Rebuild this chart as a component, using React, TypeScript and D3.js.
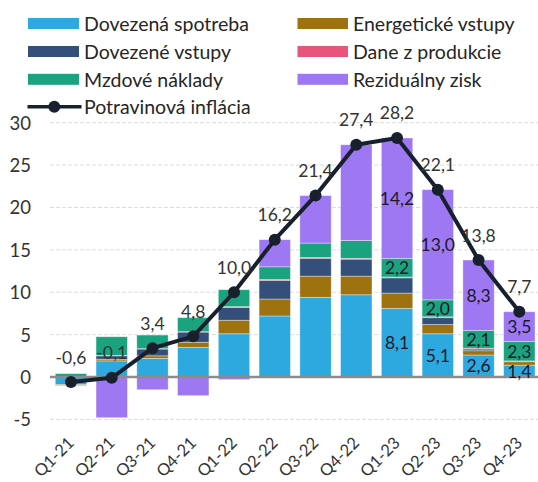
import React from "react";
import * as d3 from "d3";

const quarters = ["Q1-21", "Q2-21", "Q3-21", "Q4-21", "Q1-22", "Q2-22", "Q3-22", "Q4-22", "Q1-23", "Q2-23", "Q3-23", "Q4-23"];
const dovezenaSpotreba = [-0.9, 1.9, 2.2, 3.5, 5.1, 7.2, 9.4, 9.7, 8.1, 5.1, 2.6, 1.4];
const energetickeVstupy = [-0.1, 0.2, 0.3, 0.6, 1.6, 2.0, 2.5, 2.2, 1.8, 1.1, 0.5, 0.4];
const dovezeneVstupy = [0, 0.4, 0.8, 1.2, 1.5, 2.2, 2.1, 2.0, 1.8, 0.8, 0.2, 0.0];
const daneZProdukcie = [0, 0.05, 0.05, 0.05, 0.1, 0.1, 0.1, 0.1, 0.1, 0.1, 0.1, 0.1];
const mzdoveNaklady = [0.4, 2.2, 1.6, 1.65, 2.0, 1.5, 1.7, 2.1, 2.2, 2.0, 2.1, 2.3];
const rezidualnyZisk = [0, -4.8, -1.5, -2.2, -0.3, 3.2, 5.6, 11.3, 14.2, 13.0, 8.3, 3.5];
const potravinovaInflacia = [-0.6, -0.1, 3.4, 4.8, 10.0, 16.2, 21.4, 27.4, 28.2, 22.1, 13.8, 7.7];
const yTicks = [-5, 0, 5, 10, 15, 20, 25, 30];
const labeledFrom = 8;

const seriesDefs = [
  { key: "Dovezená spotreba", values: dovezenaSpotreba, color: "#2EA9E0", label: true },
  { key: "Energetické vstupy", values: energetickeVstupy, color: "#9E720F", label: false },
  { key: "Dovezené vstupy", values: dovezeneVstupy, color: "#34507A", label: false },
  { key: "Dane z produkcie", values: daneZProdukcie, color: "#E8557A", label: false },
  { key: "Mzdové náklady", values: mzdoveNaklady, color: "#1BA37F", label: true },
  { key: "Reziduálny zisk", values: rezidualnyZisk, color: "#9E77F2", label: true },
];

const W = 538;
const H = 482;
const FONT = "Lato, 'Open Sans', sans-serif";
const LINE_COLOR = "#18202E";
const fmt = (v: number) => d3.format(".1f")(v).replace(".", ",").replace("−", "-");

export default function App() {
  const x = d3.scaleBand<string>().domain(quarters).range([50.6, 539.7]).paddingInner(0.23).paddingOuter(0.115);
  const y = d3.scaleLinear().domain([-5, 30]).range([419.4, 122.7]);

  const table = quarters.map((q, i) => {
    const row: any = { q };
    seriesDefs.forEach((s) => (row[s.key] = s.values[i]));
    return row;
  });
  const stacked = d3.stack<any>().keys(seriesDefs.map((s) => s.key)).offset(d3.stackOffsetDiverging)(table);

  const line = d3
    .line<number>()
    .x((_, i) => (x(quarters[i]) as number) + x.bandwidth() / 2)
    .y((d) => y(d));

  const legendLeft = [seriesDefs[0], seriesDefs[2], seriesDefs[4]];
  const legendRight = [seriesDefs[1], seriesDefs[3], seriesDefs[5]];
  const rowY = [23.5, 51.5, 79.3, 106.7];

  return (
    <svg width={W} height={H} style={{ position: "absolute", left: 0, top: 0, display: "block", background: "#fff" }} fontFamily={FONT}>
      {/* gridlines */}
      {yTicks.filter((t) => t !== 0).map((t) => (
        <line key={t} x1={50} x2={538} y1={y(t)} y2={y(t)} stroke="#dcdcdc" strokeWidth={1} strokeDasharray="4 2" />
      ))}
      {/* y tick labels */}
      {yTicks.map((t) => (
        <text key={t} x={31} y={y(t)} textAnchor="end" dominantBaseline="central" fontSize={18.5} fill="#333">
          {t}
        </text>
      ))}
      {/* bars */}
      {stacked.map((layer, si) => (
        <g key={layer.key} fill={seriesDefs[si].color}>
          {layer.map((d, i) => {
            const y0 = y(d[0]);
            const y1 = y(d[1]);
            const h = Math.abs(y0 - y1);
            if (h < 0.01) return null;
            return (
              <rect
                key={i}
                x={x(quarters[i])}
                width={x.bandwidth()}
                y={Math.min(y0, y1)}
                height={h}
                stroke="rgba(255,255,255,0.45)"
                strokeWidth={0.8}
              />
            );
          })}
        </g>
      ))}
      {/* zero line */}
      <line x1={50} x2={538} y1={y(0)} y2={y(0)} stroke="#8c8c8c" strokeWidth={2.5} />
      {/* inside bar labels */}
      {stacked.map((layer, si) =>
        seriesDefs[si].label
          ? layer.map((d, i) =>
              i >= labeledFrom ? (
                <text
                  key={`${si}-${i}`}
                  x={(x(quarters[i]) as number) + x.bandwidth() / 2}
                  y={(y(d[0]) + y(d[1])) / 2}
                  textAnchor="middle"
                  dominantBaseline="central"
                  fontSize={17.5}
                  fill="#1a1a2a"
                >
                  {fmt(seriesDefs[si].values[i])}
                </text>
              ) : null
            )
          : null
      )}
      {/* inflation line */}
      <path d={line(potravinovaInflacia) || ""} fill="none" stroke={LINE_COLOR} strokeWidth={4} strokeLinejoin="round" />
      {potravinovaInflacia.map((v, i) => (
        <circle key={i} cx={(x(quarters[i]) as number) + x.bandwidth() / 2} cy={y(v)} r={6} fill={LINE_COLOR} />
      ))}
      {potravinovaInflacia.map((v, i) => (
        <text
          key={i}
          x={(x(quarters[i]) as number) + x.bandwidth() / 2}
          y={y(v) - 25}
          textAnchor="middle"
          dominantBaseline="central"
          fontSize={17.5}
          fill="#333"
        >
          {fmt(v)}
        </text>
      ))}
      {/* x labels */}
      {quarters.map((q) => (
        <text
          key={q}
          transform={`translate(${(x(q) as number) + x.bandwidth() / 2 + 4},${444}) rotate(-45)`}
          textAnchor="end"
          fontSize={16.5}
          fill="#333"
        >
          {q}
        </text>
      ))}
      {/* legend */}
      {legendLeft.map((s, i) => (
        <g key={s.key}>
          <rect x={28} y={rowY[i] - 5.5} width={51} height={11} fill={s.color} />
          <text x={84} y={rowY[i]} dominantBaseline="central" fontSize={19.5} fill="#262626">
            {s.key}
          </text>
        </g>
      ))}
      {legendRight.map((s, i) => (
        <g key={s.key}>
          <rect x={297.5} y={rowY[i] - 5.5} width={50.5} height={11} fill={s.color} />
          <text x={353} y={rowY[i]} dominantBaseline="central" fontSize={19.5} fill="#262626">
            {s.key}
          </text>
        </g>
      ))}
      <g>
        <line x1={27.5} x2={81.5} y1={rowY[3]} y2={rowY[3]} stroke={LINE_COLOR} strokeWidth={3.5} />
        <circle cx={54.3} cy={rowY[3]} r={6} fill={LINE_COLOR} />
        <text x={84} y={rowY[3]} dominantBaseline="central" fontSize={19.5} fill="#262626">
          Potravinová inflácia
        </text>
      </g>
    </svg>
  );
}
